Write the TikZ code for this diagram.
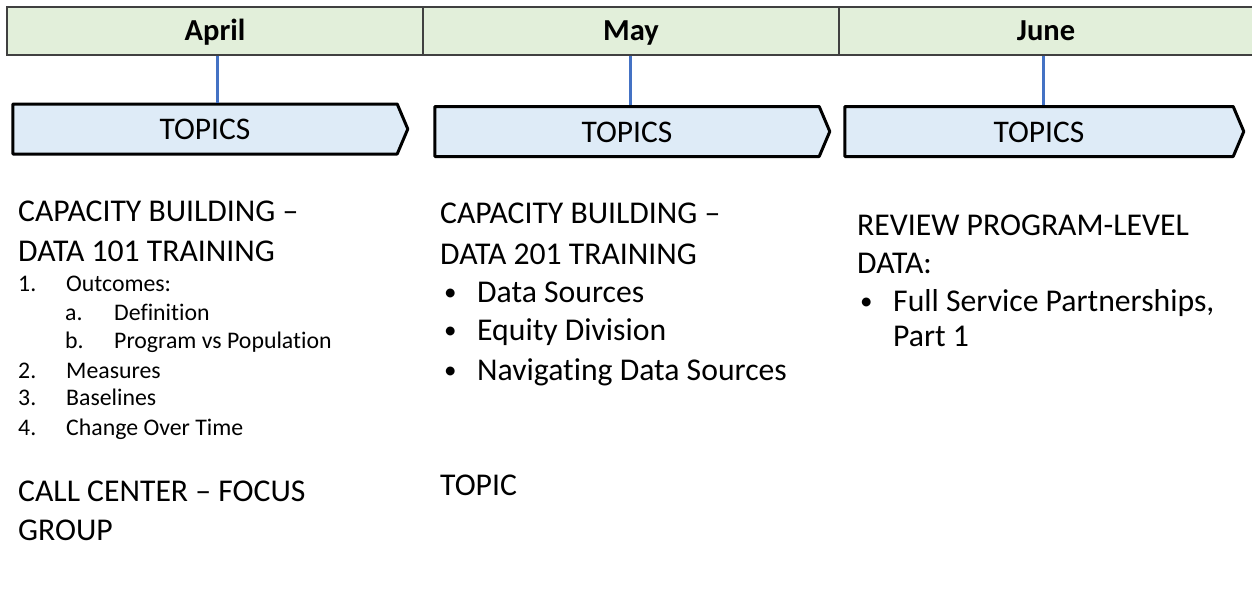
\documentclass[tikz,border=0pt]{standalone}
\usepackage{fontspec}
\setmainfont{Carlito}[Ligatures={NoCommon}]
\usetikzlibrary{shapes.symbols}
\definecolor{bandgreen}{HTML}{E2EFDA}
\definecolor{bandline}{HTML}{404040}
\definecolor{chevblue}{HTML}{DEEBF7}
\definecolor{linkblue}{HTML}{4472C4}
\tikzset{
  month/.style={draw=bandline, line width=1.2pt, fill=bandgreen, minimum height=48pt,
    inner sep=0, text height=20pt, text depth=0pt, font=\fontsize{30.5}{36}\selectfont\bfseries},
  chev/.style={shape=signal, signal to=east, signal from=nowhere, signal pointer angle=134,
    draw=black, line width=3pt, line join=round, fill=chevblue, minimum height=50pt,
    inner sep=0, text height=21pt, text depth=0pt, font=\fontsize{31.5}{37}\selectfont},
  link/.style={draw=linkblue, line width=3pt},
  big/.style={anchor=base west, inner sep=0, font=\fontsize{31.7}{37}\selectfont},
  dot/.style={anchor=base west, inner sep=0, font=\fontsize{25}{30}\selectfont},
  small/.style={anchor=base west, inner sep=0, font=\fontsize{23.8}{28}\selectfont},
}
\begin{document}
\begin{tikzpicture}[x=1pt,y=-1pt]
\useasboundingbox (0,0) rectangle (1252,594);

% month band
\node[month, minimum width=416pt] (apr) at (215,31) {April};
\node[month, minimum width=416pt] (may) at (631,31) {May};
\node[month, minimum width=414pt] (jun) at (1046,31) {June};

% topic chevrons
\node[chev, minimum width=395pt] (t1) at (205,129) {TOPICS};
\node[chev, minimum width=395pt] (t2) at (627,131.5) {TOPICS};
\node[chev, minimum width=399pt] (t3) at (1039,131.5) {TOPICS};

% month-to-topic links
\draw[link] ([xshift=2pt]apr.south) -- ([xshift=2pt]apr.south |- t1.north);
\draw[link] ([xshift=-1pt]may.south) -- ([xshift=-1pt]may.south |- t2.north);
\draw[link] ([xshift=-3pt]jun.south) -- ([xshift=-3pt]jun.south |- t3.north);

% April column
\node[big] (a1) at (18,221.7) {CAPACITY BUILDING –};
\node[big] (a2) at (18,261.7) {DATA 101 TRAINING};
\node[small] (a3n) at (18,291.7) {1.};
\node[small] (a3) at (66,291.7) {Outcomes:};
\node[small] (a4n) at (65,320) {a.};
\node[small] (a4) at (114,320) {Definition};
\node[small] (a5n) at (65,348.3) {b.};
\node[small] (a5) at (114,348.3) {Program vs Population};
\node[small] (a6n) at (18,378.3) {2.};
\node[small] (a6) at (66,378.3) {Measures};
\node[small] (a7n) at (18,405) {3.};
\node[small] (a7) at (66,405) {Baselines};
\node[small] (a8n) at (18,435) {4.};
\node[small] (a8) at (66,435) {Change Over Time};
\node[big] (a9) at (18,501.7) {CALL CENTER – FOCUS};
\node[big] (a10) at (18,540) {GROUP};

% May column
\node[big] (m1) at (440,223.3) {CAPACITY BUILDING –};
\node[big] (m2) at (440,264) {DATA 201 TRAINING};
\node[dot] (m3b) at (444,300.7) {•};
\node[big] (m3) at (477,302.7) {Data Sources};
\node[dot] (m4b) at (444,338) {•};
\node[big] (m4) at (477,340) {Equity Division};
\node[dot] (m5b) at (444,378) {•};
\node[big] (m5) at (477,380) {Navigating Data Sources};
\node[big] (m6) at (440,495) {TOPIC};

% June column
\node[big] (j1) at (857,235) {REVIEW PROGRAM-LEVEL};
\node[big] (j2) at (857,273.3) {DATA:};
\node[dot] (j3b) at (860,309.7) {•};
\node[big] (j3) at (893,311.7) {Full Service Partnerships,};
\node[big] (j4) at (893,346.7) {Part 1};
\end{tikzpicture}
\end{document}
